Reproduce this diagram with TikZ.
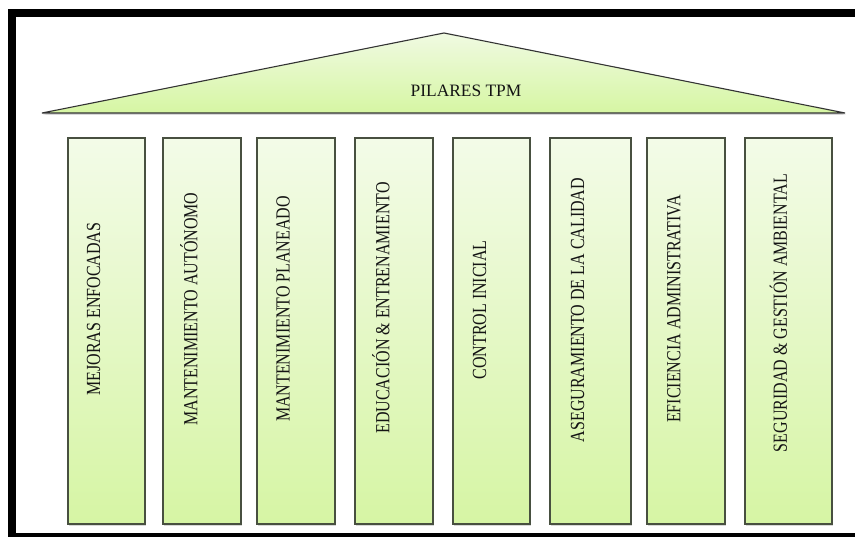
\documentclass[tikz,border=0pt]{standalone}
\usepackage{fontspec}
\setmainfont{Liberation Serif}
\usetikzlibrary{shadows,calc}
\definecolor{pilltop}{RGB}{243,251,232}
\definecolor{pillbot}{RGB}{214,245,164}
\definecolor{rooftop}{RGB}{240,250,226}
\definecolor{roofbot}{RGB}{214,246,163}
\definecolor{edgecol}{RGB}{72,80,64}
\definecolor{txtcol}{RGB}{20,20,20}
\tikzset{
  pillar/.style={draw=edgecol, line width=1.1pt, top color=pilltop, bottom color=pillbot,
    minimum width=#1, minimum height=386pt, inner sep=0pt,
    drop shadow={opacity=0.3, shadow xshift=0.8pt, shadow yshift=-1.5pt}},
  pillar/.default=78pt,
  plabel/.style={rotate=90, text=txtcol, inner sep=0pt, font=\fontsize{20}{20}\selectfont},
  roofstyle/.style={draw=black!80, line width=1.1pt, top color=rooftop, bottom color=roofbot,
    line join=miter,
    drop shadow={opacity=0.3, shadow xshift=0.8pt, shadow yshift=-1.8pt}},
  rooflabel/.style={text=txtcol, inner sep=0pt, font=\fontsize{17.4}{17.4}\selectfont}
}
\newcommand{\cond}[1]{\scalebox{0.8}[1]{#1}}
\begin{document}
\begin{tikzpicture}[x=1pt,y=-1pt]
\useasboundingbox (0,0) rectangle (855,537);
\clip (0,0) rectangle (855,537);
% frame
\fill[black] (8,9) rectangle (880,560);
\fill[white] (16,17) rectangle (880,533);
% roof
\coordinate (rl) at (42,113);
\coordinate (ra) at (444,33);
\coordinate (rr) at (845,113);
\path[roofstyle] (rl) -- (ra) -- (rr) -- cycle;
\node[rooflabel] (title) at (466,91) {PILARES TPM};
% pillars
\node[pillar=77pt] (p1) at (106.5,331) {};
\node[pillar=78pt] (p2) at (202,331) {};
\node[pillar=78pt] (p3) at (296,331) {};
\node[pillar=78pt] (p4) at (394,331) {};
\node[pillar=77pt] (p5) at (491.5,331) {};
\node[pillar=81pt] (p6) at (590.5,331) {};
\node[pillar=78pt] (p7) at (686,331) {};
\node[pillar=87pt] (p8) at (788.5,331) {};
% labels
\node[plabel] (t1) at ($(p1.center)+(-13,-22)$) {\cond{MEJORAS ENFOCADAS}};
\node[plabel] (t2) at ($(p2.center)+(-13,-22)$) {\cond{MANTENIMIENTO AUTÓNOMO}};
\node[plabel] (t3) at ($(p3.center)+(-13,-22)$) {\cond{MANTENIMIENTO PLANEADO}};
\node[plabel] (t4) at ($(p4.center)+(-13,-23)$) {\cond{EDUCACIÓN \& ENTRENAMIENTO}};
\node[plabel] (t5) at ($(p5.center)+(-12,-21)$) {\cond{CONTROL INICIAL}};
\node[plabel] (t6) at ($(p6.center)+(-13,-21)$) {\cond{ASEGURAMIENTO DE LA CALIDAD}};
\node[plabel] (t7) at ($(p7.center)+(-12,-22)$) {\cond{EFICIENCIA ADMINISTRATIVA}};
\node[plabel] (t8) at ($(p8.center)+(-10,-18)$) {\cond{SEGURIDAD \& GESTIÓN AMBIENTAL}};
\end{tikzpicture}
\end{document}
